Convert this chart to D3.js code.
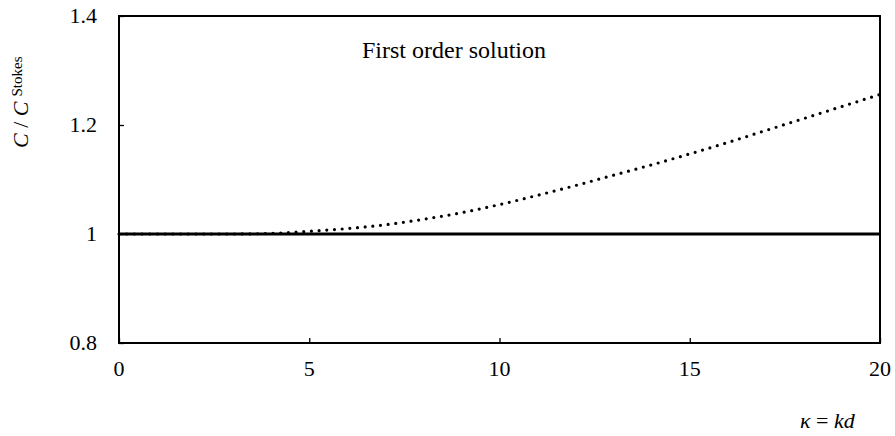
<!DOCTYPE html>
<html>
<head>
<meta charset="utf-8">
<script src="https://cdn.jsdelivr.net/npm/d3@7"></script>
<style>
  html, body { margin: 0; padding: 0; background: #fff; }
  svg { display: block; }
  svg text { font-family: "Liberation Serif", "Tinos", "Times New Roman", serif; fill: #000; }
</style>
</head>
<body>
<svg id="chart" width="895" height="436"></svg>
<script>
// Dimensionless wave number κ = kd
const kappa = [0, 1, 2, 3, 4, 5, 6, 7, 8, 9, 10, 11, 12, 13, 14, 15, 16, 17, 18, 19, 20];
// First order solution, ratio C / C^Stokes (dotted)
const firstOrder = [1.000, 1.000, 1.000, 1.000, 1.001, 1.005, 1.010, 1.017, 1.027, 1.039, 1.054,
                    1.071, 1.089, 1.108, 1.127, 1.147, 1.168, 1.190, 1.212, 1.234, 1.256];
// Stokes reference (solid)
const stokesRef = [1, 1, 1, 1, 1, 1, 1, 1, 1, 1, 1, 1, 1, 1, 1, 1, 1, 1, 1, 1, 1];

const xTicks = [0, 5, 10, 15, 20];
const yTicks = [0.8, 1.0, 1.2, 1.4];
const yTickLabels = ["0.8", "1", "1.2", "1.4"];

const svg = d3.select("#chart");
const margin = { left: 119, top: 16, right: 15, bottom: 93 };
const W = 895, H = 436;

const x = d3.scaleLinear().domain([0, 20]).range([margin.left, W - margin.right]);
const y = d3.scaleLinear().domain([0.8, 1.4]).range([H - margin.bottom, margin.top]);

// inward ticks
const xAxis = d3.axisBottom(x).tickValues(xTicks).tickSizeInner(-5).tickSizeOuter(0).tickFormat("");
const yAxis = d3.axisLeft(y).tickValues(yTicks).tickSizeInner(-5).tickSizeOuter(0).tickFormat("");

svg.append("g").attr("transform", `translate(0,${y(0.8)})`).call(xAxis)
  .call(g => g.select(".domain").remove())
  .selectAll("line").attr("stroke", "#000").attr("stroke-width", 1.3);
svg.append("g").attr("transform", `translate(${x(0)},0)`).call(yAxis)
  .call(g => g.select(".domain").remove())
  .selectAll("line").attr("stroke", "#000").attr("stroke-width", 1.3);

// tick labels
svg.append("g").selectAll("text").data(xTicks).join("text")
  .attr("x", d => x(d)).attr("y", 376)
  .attr("text-anchor", "middle").style("font-size", "22px")
  .text(d => d);
svg.append("g").selectAll("text").data(yTicks).join("text")
  .attr("x", 97).attr("y", d => y(d) + 7)
  .attr("text-anchor", "end").style("font-size", "22px")
  .text((d, i) => yTickLabels[i]);

// series
const line = (vals) => d3.line()
  .x((d, i) => x(kappa[i]))
  .y(d => y(d))
  .curve(d3.curveMonotoneX)(vals);

svg.append("path").attr("d", line(stokesRef))
  .attr("fill", "none").attr("stroke", "#000").attr("stroke-width", 3);

svg.append("path").attr("d", line(firstOrder))
  .attr("fill", "none").attr("stroke", "#000").attr("stroke-width", 3.2)
  .attr("stroke-linecap", "round").attr("stroke-dasharray", "0 7.7");

// frame
svg.append("rect")
  .attr("x", x(0)).attr("y", y(1.4))
  .attr("width", x(20) - x(0)).attr("height", y(0.8) - y(1.4))
  .attr("fill", "none").attr("stroke", "#000").attr("stroke-width", 2);

// annotation
svg.append("text").attr("x", 454).attr("y", 58)
  .attr("text-anchor", "middle").style("font-size", "24px")
  .text("First order solution");

// y axis title
const yl = svg.append("text")
  .attr("transform", "translate(28,148) rotate(-90)")
  .style("font-size", "22px");
yl.append("tspan").style("font-style", "italic").text("C");
yl.append("tspan").text(" / ");
yl.append("tspan").style("font-style", "italic").text("C");
yl.append("tspan").style("font-size", "15px").attr("dy", -6).attr("dx", 5).text("Stokes");

// x axis title
const xl = svg.append("text").attr("x", 800).attr("y", 428)
  .style("font-size", "22px").style("font-style", "italic");
xl.append("tspan").text("κ");
xl.append("tspan").style("font-style", "normal").text(" = ");
xl.append("tspan").text("kd");
</script>
</body>
</html>
